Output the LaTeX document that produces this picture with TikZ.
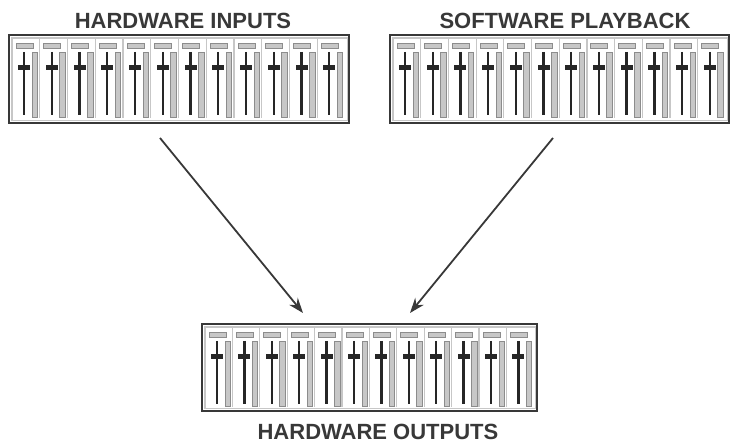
\documentclass[tikz,border=0pt]{standalone}
\usepackage{fontspec}
\setmainfont{Liberation Sans}
\usepackage{tikz}
\usetikzlibrary{arrows.meta, calc, positioning}
\definecolor{mydark}{gray}{0.22}
\definecolor{mygrey}{gray}{0.55}
\definecolor{mylight}{gray}{0.78}
\tikzstyle{mixer} = [rectangle, draw=mydark, line width=2.2pt, minimum height=88pt, anchor=north west, inner sep=0pt]
\tikzstyle{title} = [font=\fontsize{22}{22}\selectfont\bfseries, text=mydark, inner sep=0pt]
\tikzstyle{divider} = [draw=mylight, line width=1.2pt]
\tikzstyle{lamp} = [draw=mygrey, fill=mylight, line width=0.9pt]
\tikzstyle{fader} = [draw=black!85, line width=2.4pt]
\tikzstyle{knob} = [fill=black!85]
\tikzstyle{meter} = [draw=mygrey, fill=mylight, line width=0.9pt]
\tikzstyle{arrow} = [line width=1.8pt, draw=mydark, -{Stealth[length=15pt,width=11pt]}]

% twelve channel strips inside a mixer node: #1 node, #2 strip pitch
\newcommand{\strips}[2]{%
  \draw[divider] ($(#1.north west)+(4,4)$) rectangle ($(#1.south east)+(-3,-4)$);
  \foreach \i in {0,...,11} {
    \begin{scope}[shift={($(#1.north west)+(4+#2*\i,4)$)}]
      \ifnum\i>0 \draw[divider] (0,0) -- (0,80); \fi
      \draw[lamp] (4,5) rectangle (21,10);
      \draw[fader] (12,14) -- (12,77);
      \fill[knob] (6,27.5) rectangle (18,32);
      \draw[meter] (20,14) rectangle (25.5,79);
    \end{scope}
  }
}

\begin{document}
\begin{tikzpicture}[x=1pt, y=-1pt]
    \useasboundingbox (0,0) rectangle (734,446);
    \node (hwin) [mixer, minimum width=340pt] at (8,34) {};
    \node (swplay) [mixer, minimum width=339pt] at (389,34) {};
    \node (hwout) [mixer, minimum width=335pt, minimum height=87pt] at (201,323) {};
    \strips{hwin}{27.75}
    \strips{swplay}{27.7}
    \strips{hwout}{27.4}
    \node (hwinlabel) [title] at (183,21) {HARDWARE INPUTS};
    \node (swlabel) [title] at (565,21) {SOFTWARE PLAYBACK};
    \node (hwoutlabel) [title] at (378,431.5) {HARDWARE OUTPUTS};
    \coordinate (infrom) at (160,138);
    \coordinate (into) at (303,313);
    \coordinate (swfrom) at (553,138);
    \coordinate (swto) at (410,313);
    \draw[arrow] (infrom) -- (into);
    \draw[arrow] (swfrom) -- (swto);
\end{tikzpicture}
\end{document}
